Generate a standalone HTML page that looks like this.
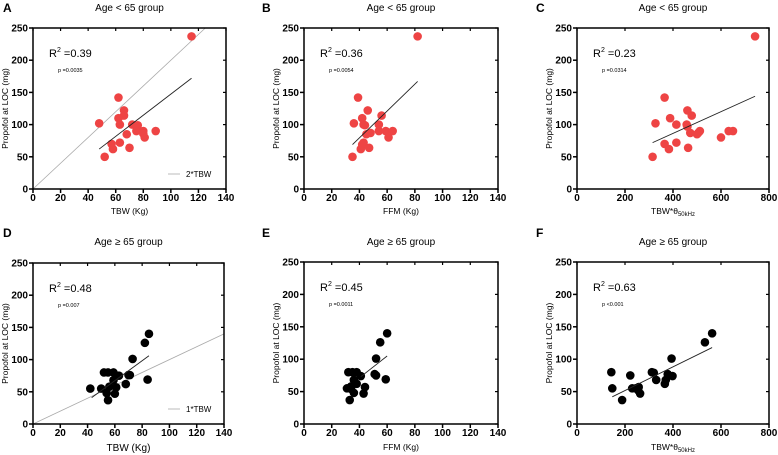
<!DOCTYPE html>
<html><head><meta charset="utf-8"><style>
html,body{margin:0;padding:0;background:#fff;}
svg{display:block;font-family:"Liberation Sans",Arial,sans-serif;}
</style></head><body>
<svg id="fig" width="778" height="455" viewBox="0 0 778 455" xmlns="http://www.w3.org/2000/svg"></svg>
<script>
// Panel A: TBW vs propofol, age < 65
const aX=[115,48,62,66,66,62,63,72,76,80,75,80,89,81,68,63,57,58,70,52];
const aY=[237,102,142,122,114,110,100,100,99,90,90,86,90,80,85,72,70,62,64,50];
const aFit=[[48,62],[115,172]];
// Panel B: FFM
const bX=[82,39,46,56,42,36,43,44,54,54,59,64,48,45,61,43,42,41,47,35];
const bY=[237,142,122,114,110,102,100,99,100,90,90,90,87,85,80,72,69,62,64,50];
const bFit=[[35,69],[82,167]];
// Panel C: TBW*theta
const cX=[742,365,460,478,388,327,414,457,460,512,505,472,500,600,632,650,414,365,383,463,315];
const cY=[237,142,122,114,110,102,100,100,97,90,87,87,85,80,90,90,72,70,62,64,50];
const cFit=[[315,72],[742,144]];
// Panel D: TBW, age >= 65
const dX=[85,82,73,84,52,55,59,59,63,70,68,56,61,50,42,54,60,55,71];
const dY=[140,126,101,69,80,80,80,68,75,76,62,58,57,55,55,48,47,37,76];
const dFit=[[43,41],[85,106]];
// Panel E: FFM
const eX=[60,55,52,59,51,52,32,35,38,41,36,38,34,44,31,36,43,33,34];
const eY=[140,126,101,69,77,75,80,80,80,74,68,62,58,57,55,48,47,37,54];
const eFit=[[41,73],[60,105]];
// Panel F: TBW*theta
const fX=[563,533,394,398,378,370,366,312,320,330,143,147,222,230,245,257,255,263,188];
const fY=[140,126,101,74,77,68,62,80,79,68,80,55,75,55,55,57,52,47,37];
const fFit=[[147,42],[563,118]];
const yTicks=[0,50,100,150,200,250];
const xTicksKg=[0,20,40,60,80,100,120,140];
const xTicksTh=[0,200,400,600,800];

const NS="http://www.w3.org/2000/svg";
const svg=document.getElementById('fig');
function mk(tag,attrs,parent,text){const e=document.createElementNS(NS,tag);for(const k in attrs)e.setAttribute(k,attrs[k]);if(text!==undefined)e.textContent=text;(parent||svg).appendChild(e);return e;}

function panel(o){
  const g=mk('g',{});
  
  
  const L=o.x0,R=o.x1,T=o.y1,B=o.y0;
  const sx=v=>L+(v-o.xmin)/(o.xmax-o.xmin)*(R-L);
  const sy=v=>B-(v/250)*(B-T);
  const lt=mk('text',{x:o.lx,y:o.ly,'font-size':12,'font-weight':'bold'},g,o.letter);
  
  const tt=mk('text',{x:(L+R)/2,y:o.ty,'font-size':10,'text-anchor':'middle'},g,o.title);
  
  if(o.ref){
    const rl=mk('line',{x1:sx(0),y1:sy(0),x2:sx(o.ref[0]),y2:sy(o.ref[1]),stroke:'#aaa','stroke-width':0.8},g);
    
    const ll=mk('line',{x1:L+135,y1:B-15,x2:L+147,y2:B-15,stroke:'#aaa','stroke-width':0.8},g);
    
    const lg=mk('text',{x:L+153,y:B-12,'font-size':8},g,o.refLabel);
    
  }
  for(let i=0;i<o.xs.length;i++){
    const c=mk('circle',{cx:sx(o.xs[i]),cy:sy(o.ys[i]),r:4.3,fill:o.color},g);
    
    
  }
  const fl=mk('line',{x1:sx(o.fit[0][0]),y1:sy(o.fit[0][1]),x2:sx(o.fit[1][0]),y2:sy(o.fit[1][1]),stroke:'#222','stroke-width':0.9},g);
  
  const fr=mk('rect',{x:L,y:T,width:R-L,height:B-T,fill:'none',stroke:'#000','stroke-width':1.5},g);
  
  yTicks.forEach(v=>{
    mk('line',{x1:L-4,y1:sy(v),x2:L,y2:sy(v),stroke:'#000','stroke-width':1.5},g);
    mk('line',{x1:R,y1:sy(v),x2:R-3,y2:sy(v),stroke:'#000','stroke-width':1.2},g);
    const t=mk('text',{x:L-5,y:sy(v)+3.5,'font-size':10,'font-weight':'bold','text-anchor':'end'},g,String(v));
    
  });
  o.xt.forEach(v=>{
    mk('line',{x1:sx(v),y1:B,x2:sx(v),y2:B+4,stroke:'#000','stroke-width':1.5},g);
    mk('line',{x1:sx(v),y1:T,x2:sx(v),y2:T+3,stroke:'#000','stroke-width':1.2},g);
    const t=mk('text',{x:sx(v),y:B+12,'font-size':10,'font-weight':'bold','text-anchor':'middle'},g,String(v));
    
  });
  const xa=mk('text',{x:(L+R)/2,y:B+o.xty,'font-size':o.xfs,'text-anchor':'middle'},g);
  
  if(o.theta){xa.textContent='TBW*θ';mk('tspan',{'font-size':6,dy:2},xa,'50kHz');}
  else xa.textContent=o.xlabel;
  const ya=mk('text',{x:0,y:0,'font-size':8.5,'text-anchor':'middle',transform:`translate(${L-25},${(T+B)/2}) rotate(-90)`},g,'Propofol at LOC (mg)');
  
  const r2=mk('text',{x:L+16,y:T+29,'font-size':11},g);
  
  r2.appendChild(document.createTextNode('R'));mk('tspan',{'font-size':7,dy:-5},r2,'2');
  mk('tspan',{dy:5},r2,' =' + o.r2);
  const p=mk('text',{x:L+25,y:T+44,'font-size':5.5},g,o.p);
  
}
const red='#ee4444',blk='#000';
panel({letter:'A',lx:3,ly:12,title:'Age < 65 group',ty:11,x0:33,x1:226,y0:189,y1:28,xmin:0,xmax:140,xt:xTicksKg,xty:25,xfs:8.5,xs:aX,ys:aY,fit:aFit,color:red,xlabel:'TBW (Kg)',r2:'0.39',p:'p =0.0035',ref:[125,250],refLabel:'2*TBW'});
panel({letter:'B',lx:262,ly:12,title:'Age < 65 group',ty:11,x0:304,x1:498,y0:189,y1:28,xmin:0,xmax:140,xt:xTicksKg,xty:25,xfs:8.5,xs:bX,ys:bY,fit:bFit,color:red,xlabel:'FFM (Kg)',r2:'0.36',p:'p =0.0054'});
panel({letter:'C',lx:536,ly:12,title:'Age < 65 group',ty:11,x0:577,x1:769,y0:189,y1:28,xmin:0,xmax:800,xt:xTicksTh,xty:25,xfs:8.5,xs:cX,ys:cY,fit:cFit,color:red,theta:true,r2:'0.23',p:'p =0.0314'});
panel({letter:'D',lx:3,ly:237,title:'Age ≥ 65 group',ty:245,x0:33,x1:224,y0:424,y1:263,xmin:0,xmax:140,xt:xTicksKg,xty:27,xfs:10,xs:dX,ys:dY,fit:dFit,color:blk,xlabel:'TBW (Kg)',r2:'0.48',p:'p =0.007',ref:[140,140],refLabel:'1*TBW'});
panel({letter:'E',lx:262,ly:237,title:'Age ≥ 65 group',ty:245,x0:304,x1:498,y0:424,y1:262,xmin:0,xmax:140,xt:xTicksKg,xty:26,xfs:8.5,xs:eX,ys:eY,fit:eFit,color:blk,xlabel:'FFM (Kg)',r2:'0.45',p:'p =0.0011'});
panel({letter:'F',lx:536,ly:237,title:'Age ≥ 65 group',ty:245,x0:577,x1:769,y0:424,y1:262,xmin:0,xmax:800,xt:xTicksTh,xty:26,xfs:8.5,xs:fX,ys:fY,fit:fFit,color:blk,theta:true,r2:'0.63',p:'p <0.001'});
</script>
</body></html>
